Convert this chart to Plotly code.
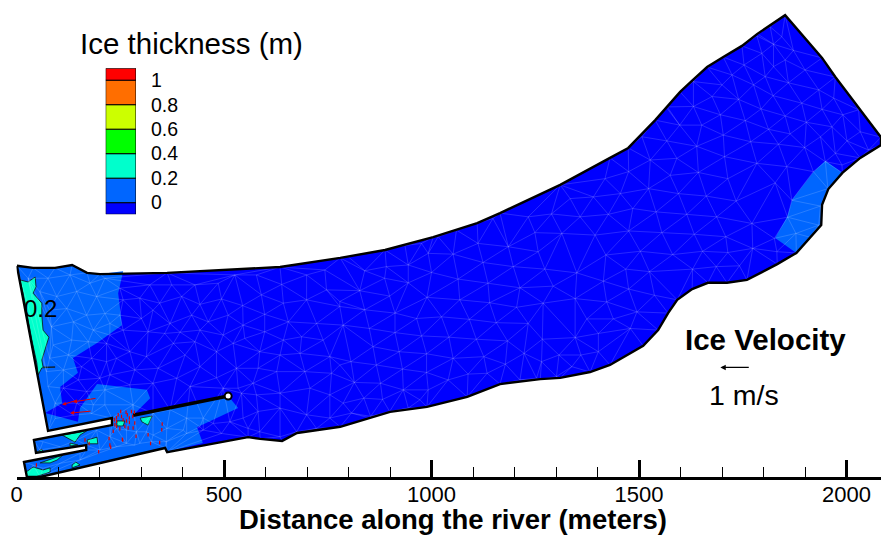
import plotly.graph_objects as go

FONT = "Liberation Sans"

# Domain outline, metres
bound_x = [1,40,93,134,170,201,363,635,780,888,1004,1110,1165,1310,1430,1474,1539,1568,1599,1630,1664,1703,1748,1785,1852,
           1941,1973,2083,2083,2033,1990,1956,1941,1939,1912,1879,1833,1760,1712,1666,1628,1592,1570,1546,1510,1430,1382,
           1310,1262,1165,1086,989,900,852,780,676,640,587,558,363,358,57,25,18,168,168,47,42,230,230,76]
bound_y = [509,504,504,511,492,489,492,506,528,547,578,612,636,704,769,793,860,892,928,957,988,1012,1039,1068,1113,
           1010,964,819,800,769,733,694,656,607,578,540,513,475,468,468,453,427,395,354,316,270,253,
           239,236,224,193,169,157,142,121,106,87,92,96,60,70,0,0,36,65,77,58,89,125,142,111]

# 0.2 m zones
zone_a_x = [1,40,93,134,170,201,257,245,249,254,194,136,148,105,110,69]
zone_a_y = [509,504,504,511,492,489,496,443,410,366,323,287,251,217,178,154]
zone_b_x = [69,112,148,153,194,314,322,281,510,534,435,449,360,358,57,25,18,168,168,47,42,230,230,76]
zone_b_y = [154,142,133,166,224,210,190,149,195,166,120,82,60,70,0,0,36,65,77,58,89,125,142,111]
zone_c_x = [1949,1990,1956,1941,1939,1912,1879,1828,1857,1869,1896,1920]
zone_c_y = [762,733,694,656,607,578,540,576,627,668,704,735]

# 0.4 m patches
patch_x = [
    [8,28,45,47,40,61,61,64,78,69,61,64,93,61,52,49,37,16],
    [110,153,172,153,141,124],
    [170,194,196,172],
    [129,148,129],
    [49,61,64],
    [57,112,98,81],
    [25,23,40,64,81,81,45],
    [134,143,153,134],
    [298,327,317,302],
    [242,261,257,242],
]
patch_y = [
    [475,470,482,458,443,419,390,354,337,306,282,265,265,263,246,275,330,443],
    [101,108,113,101,84,94],
    [89,96,80,80],
    [82,77,75],
    [60,67,60],
    [34,53,41,34],
    [0,12,24,17,22,12,0],
    [29,36,29,22],
    [142,147,125,133],
    [135,135,123,123],
]

# Barrier, metres
barrier_x = [281, 510]
barrier_y = [149, 195]

# Mesh nodes, metres
mesh_x = [799,839,891,936,944,887,944,1000,992,976,1016,1052,1060,1112,1124,1185,1197,1148,1233,1249,1257,1289,
          1064,1136,1213,1273,1293,827,899,989,1068,1140,1205,1269,839,779,912,964,1024,1091,1156,1233,
          787,850,912,976,1042,1108,1183,1267,859,922,988,1052,1126,1178,1223,1307,
          806,867,930,988,1040,1088,1134,1265,1253,1213,1301,814,877,932,992,779,837,882,944,972,787,807,853,899,
          1567,1639,1706,1769,1703,1651,1591,1527,1475,1507,1575,1643,1714,1784,1418,1523,1595,1662,1734,1390,1455,
          1334,1485,1541,1615,1687,1772,1358,1426,1475,1555,1633,1709,1774,1314,1394,1420,1503,1581,1653,1714,
          1350,1468,1525,1629,1686,1742,1414,1475,1537,1346,1422,1495,1438,1374,1402,1479,1346,1360,1402,1338,
          1844,1816,1824,1784,1872,1796,1824,1852,1753,1804,1860,1900,1724,1776,1823,1892,1933,1969,1700,1676,1740,
          1794,1852,1941,1991,1631,1631,1696,1756,1812,1903,1595,1567,1598,2029,2061,1864,1965,2033,2001,1937,2053,
          1899,1836,1973,1949,1989,1920,1856,1955,1828,1868,1937,1858,1933,1826,1878,1832,
          249,321,374,430,486,526,578,639,699,743,257,297,345,398,442,494,545,590,643,699,747,
          249,301,329,370,422,462,510,546,598,655,723,779,257,317,357,394,442,498,550,598,643,687,739,
          225,273,313,378,430,482,522,586,635,683,755,241,285,341,406,442,482,530,582,627,695,759,
          225,273,329,386,418,498,534,570,542,578,635,707,755,582,635,699,755,546,474,514,450,410,370,329,281,
          494,442,402,362,313,265,225,586,558,635,675,723,285,325,
          28,76,129,177,213,56,97,145,193,80,121,169,213,84,137,185,225,88,133,173,217,80,125,181,217,
          72,113,157,201,149,76,113,169,213,93,145,185,213,93,137,181,
          64,105,145,193,225,241,153,201,265,297,64,105,153,56,40,241,289,329,361,410,450]
mesh_y = [531,497,507,558,511,479,468,493,539,563,579,537,595,563,517,555,507,623,627,589,543,634,
          477,467,456,501,460,449,436,433,427,420,409,419,403,411,395,382,386,380,372,370,
          366,358,348,340,337,332,328,332,314,302,297,286,290,272,298,294,
          278,270,260,252,234,248,250,278,238,234,242,228,226,210,210,270,190,187,166,186,178,154,146,158,
          810,797,772,808,824,848,768,764,736,820,727,734,719,756,719,695,683,677,665,675,683,
          671,647,639,633,627,611,627,633,593,589,585,579,551,587,583,535,544,536,544,541,
          492,501,495,501,507,509,472,453,438,430,422,398,381,381,346,358,336,294,302,266,
          1061,1085,1043,1063,1028,1021,989,1005,993,965,950,981,969,945,919,901,933,913,945,917,910,
          887,870,886,873,953,893,873,859,838,855,929,889,848,885,860,827,844,832,810,820,788,
          794,802,780,760,752,736,748,695,709,667,653,626,607,575,587,543,
          455,463,463,463,467,487,487,464,487,499,427,431,419,435,416,429,413,439,419,427,451,
          390,382,402,370,390,374,390,366,392,374,370,423,354,350,346,349,354,342,334,350,330,338,330,
          342,302,290,322,326,302,322,302,294,298,290,286,258,262,294,266,239,262,262,254,254,250,
          246,222,226,238,218,214,214,226,202,198,202,214,198,158,166,150,142,142,129,133,142,142,162,154,174,
          105,121,113,117,109,113,125,109,117,97,109,117,77,85,
          479,479,487,467,479,447,435,447,435,402,406,390,394,362,374,354,370,318,330,326,322,286,294,286,278,
          254,258,266,238,234,218,214,206,210,178,178,174,174,141,149,153,
          85,73,89,113,97,73,57,65,81,81,21,33,41,65,29,117,109,101,85,105,113]

# Velocity vectors, metres
vector_tail_x = [194, 148, 182]
vector_tail_y = [190, 186, 159]
vector_head_x = [136, 110, 129]
vector_head_y = [181, 174, 154]
small_vec_x = [236,241,241,245,251,253,257,264,267,265,272,277,280,284,285,272,261,249,237,233,256,288,317,323,350,351,225,241,269,281,
               48,165,175,198,223,227,255,345]
small_vec_y = [138,143,134,150,158,146,138,156,150,135,142,158,146,156,130,132,122,116,126,110,89,98,102,81,114,128,77,122,118,118,
               29,89,81,61,93,72,91,83]

ref_tail = (1768, 264)
ref_head = (1696, 264)

# Legend
level_edges = [-0.095, 0, 0.2, 0.4, 0.6, 0.8, 1, 1.097]
level_colors = ["#0000ff", "#0066ff", "#00ffcc", "#00ff00", "#ccff00", "#ff6e00", "#ff0000"]
level_ticks = [0, 0.2, 0.4, 0.6, 0.8, 1]
level_labels = ["0", "0.2", "0.4", "0.6", "0.8", "1"]

major_ticks = [0, 500, 1000, 1500, 2000]
major_labels = ["0", "500", "1000", "1500", "2000"]


def inside(x, y, px, py):
    c = False
    j = len(px) - 1
    for i in range(len(px)):
        if (py[i] > y) != (py[j] > y) and x < (px[j] - px[i]) * (y - py[i]) / (py[j] - py[i]) + px[i]:
            c = not c
        j = i
    return c


def triangulate(pts):
    n = len(pts)
    s = 1e5
    P = pts + [(-s, -s), (s, -s), (0.0, s)]

    def circ(t):
        ax, ay = P[t[0]]; bx, by = P[t[1]]; cx, cy = P[t[2]]
        d = 2 * (ax * (by - cy) + bx * (cy - ay) + cx * (ay - by))
        if abs(d) < 1e-9:
            return (0.0, 0.0, 1e30)
        a2, b2, c2 = ax*ax + ay*ay, bx*bx + by*by, cx*cx + cy*cy
        ux = (a2 * (by - cy) + b2 * (cy - ay) + c2 * (ay - by)) / d
        uy = (a2 * (cx - bx) + b2 * (ax - cx) + c2 * (bx - ax)) / d
        return (ux, uy, (ax - ux) ** 2 + (ay - uy) ** 2)

    tris = {(n, n + 1, n + 2): circ((n, n + 1, n + 2))}
    for i in range(n):
        x, y = P[i]
        bad = [t for t, c in tris.items() if (x - c[0]) ** 2 + (y - c[1]) ** 2 < c[2]]
        count = {}
        for t in bad:
            del tris[t]
            for e in ((t[0], t[1]), (t[1], t[2]), (t[2], t[0])):
                k = (min(e), max(e))
                count[k] = count.get(k, 0) + 1
        for (a, b), c in count.items():
            if c == 1:
                t = (a, b, i)
                tris[t] = circ(t)
    edges = set()
    for t in tris:
        if max(t) >= n:
            continue
        for e in ((t[0], t[1]), (t[1], t[2]), (t[2], t[0])):
            edges.add((min(e), max(e)))
    return P, edges


seen = []
for p in list(zip(mesh_x, mesh_y)) + list(zip(bound_x, bound_y)):
    p = (float(p[0]), float(p[1]))
    if p not in seen:
        seen.append(p)
P, edges = triangulate(seen)
edge_x, edge_y = [], []
for a, b in edges:
    (x0, y0), (x1, y1) = P[a], P[b]
    if all(inside(x0 + (x1 - x0) * k / 8, y0 + (y1 - y0) * k / 8, bound_x, bound_y) for k in range(1, 8)):
        edge_x += [x0, x1, None]
        edge_y += [y0, y1, None]

fig = go.Figure()


def closed(v):
    return list(v) + [v[0]]


fig.add_trace(go.Scatter(x=closed(bound_x), y=closed(bound_y), mode="lines", fill="toself",
                         fillcolor="#0000ff", line=dict(width=0), hoverinfo="skip"))
for zx, zy in ((zone_a_x, zone_a_y), (zone_b_x, zone_b_y), (zone_c_x, zone_c_y)):
    fig.add_trace(go.Scatter(x=closed(zx), y=closed(zy), mode="lines", fill="toself",
                             fillcolor="#0066ff", line=dict(width=0), hoverinfo="skip"))
for zx, zy in zip(patch_x, patch_y):
    fig.add_trace(go.Scatter(x=closed(zx), y=closed(zy), mode="lines", fill="toself",
                             fillcolor="#00ffcc", line=dict(width=0.8, color="#111111"), hoverinfo="skip"))
fig.add_trace(go.Scatter(x=edge_x, y=edge_y, mode="lines",
                         line=dict(width=0.8, color="rgba(255,255,255,0.2)"), hoverinfo="skip"))
fig.add_trace(go.Scatter(x=closed(bound_x), y=closed(bound_y), mode="lines",
                         line=dict(width=2.4, color="black"), hoverinfo="skip"))
fig.add_trace(go.Scatter(x=barrier_x, y=barrier_y, mode="lines",
                         line=dict(width=3.5, color="black"), hoverinfo="skip"))
fig.add_trace(go.Scatter(x=barrier_x[1:], y=barrier_y[1:], mode="markers",
                         marker=dict(size=7, color="white", line=dict(width=2, color="black")), hoverinfo="skip"))
fig.add_trace(go.Scatter(x=small_vec_x, y=small_vec_y, mode="markers",
                         marker=dict(symbol="line-ns", size=2.5, line=dict(width=1.2, color="#e00000")), hoverinfo="skip"))

fig.add_trace(go.Bar(x=[0] * len(level_colors),
                     y=[level_edges[i + 1] - level_edges[i] for i in range(len(level_colors))],
                     base=level_edges[:-1], width=1,
                     marker=dict(color=level_colors, line=dict(width=1, color="black")),
                     xaxis="x2", yaxis="y2", hoverinfo="skip"))

anns = []
for tx, ty, hx, hy in zip(vector_tail_x, vector_tail_y, vector_head_x, vector_head_y):
    anns.append(dict(x=hx, y=hy, ax=tx, ay=ty, xref="x", yref="y", axref="x", ayref="y", text="",
                     showarrow=True, arrowhead=2, arrowsize=0.8, arrowwidth=1, arrowcolor="#e00000"))
anns.append(dict(x=ref_head[0], y=ref_head[1], ax=ref_tail[0], ay=ref_tail[1], xref="x", yref="y",
                 axref="x", ayref="y", text="", showarrow=True, arrowhead=2, arrowsize=0.9, arrowwidth=1.2,
                 arrowcolor="black"))


def label(text, px, py, size, bold=False):
    return dict(text=f"<b>{text}</b>" if bold else text, x=px / 881, y=1 - py / 535, xref="paper", yref="paper",
                showarrow=False, xanchor="center", yanchor="middle",
                font=dict(family=FONT, size=size, color="black"))


anns += [label("Ice thickness (m)", 191, 44, 29.5),
         label("0.2", 40.5, 308, 24),
         label("Ice Velocity", 765, 339, 29.5, True),
         label("1 m/s", 743.5, 395, 28.5),
         label("Distance along the river (meters)", 452.5, 519, 27.5, True)]

fig.update_layout(
    template="none",
    width=881, height=535, margin=dict(l=0, r=0, t=0, b=0, pad=0), paper_bgcolor="white", plot_bgcolor="white",
    showlegend=False, barmode="overlay", annotations=anns,
    xaxis=dict(domain=[16.5 / 881, 1], range=[0, 2083], tickvals=major_ticks, ticktext=major_labels,
               automargin=False, ticks="inside", ticklen=17, tickwidth=3, tickcolor="black", showgrid=False,
               zeroline=False, showline=True, linewidth=3, linecolor="black", ticklabelstandoff=-4,
               tickfont=dict(family=FONT, size=22, color="black"),
               minor=dict(dtick=100, ticks="inside", ticklen=10, tickwidth=1.3, tickcolor="black", showgrid=False)),
    yaxis=dict(domain=[1 - 477 / 535, 1], range=[0, 1149.6], visible=False, automargin=False),
    xaxis2=dict(domain=[105.7 / 881, 136 / 881], range=[-0.5, 0.5], anchor="y2", visible=False, automargin=False),
    yaxis2=dict(domain=[1 - 214.3 / 535, 1 - 68.3 / 535], range=[-0.095, 1.097], anchor="x2", side="right",
                tickvals=level_ticks, ticktext=level_labels, ticks="outside", ticklen=10, automargin=False,
                tickcolor="rgba(0,0,0,0)", showgrid=False, zeroline=False, showline=False,
                tickfont=dict(family=FONT, size=19.5, color="black")),
)

fig.write_html("out.html", config={"displayModeBar": False}, post_script="document.body.style.margin='0';")
